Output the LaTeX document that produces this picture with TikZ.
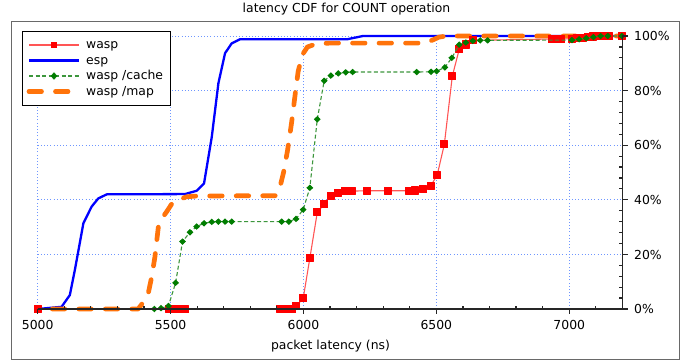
\documentclass[tikz,border=0pt]{standalone}
\usepackage{fontspec}
\setmainfont{DejaVu Sans}
\usetikzlibrary{plotmarks}
\definecolor{wRed}{RGB}{255,0,0}
\definecolor{wRedLine}{RGB}{255,85,85}
\definecolor{eBlue}{RGB}{0,0,255}
\definecolor{cGreen}{RGB}{0,125,0}
\definecolor{cGreenLine}{RGB}{60,150,60}
\definecolor{mOrange}{RGB}{255,115,10}
\definecolor{gBlue}{RGB}{110,150,255}
\definecolor{fGray}{RGB}{105,105,105}
\tikzset{
  lbl/.style={font=\fontsize{12.4}{14}\selectfont, inner sep=0pt},
  gridline/.style={gBlue, line width=0.9pt, dash pattern=on 0.9pt off 2.3pt},
  axisline/.style={black!85, line width=1.2pt},
  waspline/.style={wRedLine, line width=1.1pt, line join=round},
  espline/.style={eBlue, line width=2.3pt, line join=round},
  cacheline/.style={cGreenLine, line width=1.1pt, dash pattern=on 4pt off 2.5pt},
  mapline/.style={mOrange, line width=4.7pt, line cap=round, line join=round,
                  dash pattern=on 12.5pt off 14pt},
  waspmark/.style={mark=square*, mark size=3.5pt, mark options={draw=wRed, fill=wRed, solid}},
  cachemark/.style={mark=diamond*, mark size=2.5pt,
                    mark options={draw=cGreen, fill=cGreen, solid, xscale=1.4}},
}
\begin{document}
\begin{tikzpicture}[x=1pt,y=-1pt]
\useasboundingbox (0,0) rectangle (693,362);
\fill[white] (0,0) rectangle (693,362);
% figure frame
\draw[fGray, line width=1pt] (11,21.5) rectangle (679.5,359);
% title and axis label
\node[lbl, anchor=base] (title) at (346.5,12.5) {latency CDF for COUNT operation};
\node[lbl, anchor=base] (xlabel) at (330.5,349) {packet latency (ns)};

% data area: x in ns, y in percent
\begin{scope}[shift={(-1291.3,309)}, x=0.2658pt, y=2.73pt]
  % grid
  \foreach \v in {5000,5500,...,7000} \draw[gridline] (\v,0) -- (\v,100);
  \foreach \p in {20,40,...,100} \draw[gridline] (5000,\p) -- (7200,\p);

  % esp
  \draw[espline] plot coordinates {(5000,0) (5090,0.8) (5121,5.1) (5140,14.3) (5172,31.4)
    (5203,37.5) (5228,40.5) (5260,42) (5554,42.1) (5598,43.3) (5626,46) (5655,63)
    (5680,82.7) (5705,93.7) (5730,97.3) (5761,98.8) (6164,98.8) (6224,100) (7200,100)};

  % wasp /map
  \draw[mapline] plot coordinates {(5055,0) (5378,0) (5390,1.5) (5416,5.7) (5429,11.8)
    (5441,19) (5448,25) (5454,30) (5470,33.5) (5485,35.6) (5510,39.3) (5560,41.1)
    (5600,41.4) (5895,41.5) (5910,44) (5925,50) (5940,58) (5955,68) (5968,78)
    (5980,87) (5995,93) (6015,96) (6050,97.2) (6100,97.4) (6460,97.4) (6490,98.7)
    (6510,99.6) (6540,100) (7195,100)};

  % wasp
  \draw[waspline] plot[waspmark] coordinates {(5000,0) (5495,0) (5510,0) (5525,0)
    (5540,0) (5555,0) (5912,0) (5927,0) (5942,0) (5957,0) (5972,1.1) (5999,3.9)
    (6024,18.6) (6052,35.4) (6078,38.4) (6103,41.5) (6131,42.6) (6156,43.1) (6181,43.2)
    (6240,43.3) (6319,43.3) (6398,43.3) (6419,43.4) (6451,43.8) (6479,45.2) (6503,49)
    (6530,60.3) (6560,85.3) (6586,95.1) (6611,96.9) (6637,98.4) (6935,98.9) (6952,98.9)
    (6970,98.9) (7010,99.0) (7030,99.2) (7050,99.4) (7070,99.6) (7090,99.8) (7110,100)
    (7130,100) (7150,100) (7198,100)};

  % wasp /cache
  \draw[cacheline] plot[cachemark] coordinates {(5439,0) (5464,0.3) (5492,1.1) (5519,9.6)
    (5545,24.7) (5573,28.1) (5598,30.2) (5626,31.4) (5655,31.9) (5680,32) (5705,32)
    (5730,32) (5918,32) (5945,32) (5972,33) (5999,36.4) (6024,44.4) (6052,69.5)
    (6078,83.6) (6103,85.5) (6131,86.3) (6159,86.7) (6185,86.8) (6426,86.8) (6480,86.9)
    (6501,87.1) (6532,88.5) (6558,92) (6586,96.8) (6611,97.6) (6637,98.2) (6665,98.4)
    (6693,98.4) (7010,98.5) (7037,98.8) (7064,99.2) (7091,99.6) (7118,100) (7145,100)
    (7198,100)};

  % axes
  \draw[axisline] (5000,0) -- (7200,0) -- (7200,100);
  \foreach \v in {5000,5500,...,7000} {
    \draw[axisline] (\v,0) -- ++(0pt,-5pt);
    \node[lbl, anchor=base] (xt\v) at ([yshift=-20pt]\v,0) {\v};
  }
  \foreach \v in {5100,5200,5300,5400,5600,5700,5800,5900,6100,6200,6300,6400,
                  6600,6700,6800,6900,7100}
    \draw[axisline] (\v,0) -- ++(0pt,3.5pt);
  \foreach \p in {0,20,...,100} {
    \draw[axisline] (7200,\p) -- ++(6pt,0pt);
    \node[lbl, anchor=base west] (yt\p) at ([xshift=11.5pt,yshift=-4.7pt]7200,\p) {\p\%};
  }
  \foreach \p in {4,8,12,16,24,28,32,36,44,48,52,56,64,68,72,76,84,88,92,96}
    \draw[axisline] (7200,\p) -- ++(-3.5pt,0pt);
\end{scope}

% legend
\draw[black, line width=1pt, fill=white] (22.7,31) rectangle (170,105);
\draw[waspline] (29,45) -- (79,45);
\node[draw=none, fill=wRed, inner sep=0pt, minimum size=6.8pt] (lm1) at (54,45) {};
\draw[espline] (29,60.5) -- (79,60.5);
\node[draw=none, fill=eBlue, inner sep=0pt, minimum width=4pt, minimum height=3.6pt] (lm2) at (54,60.5) {};
\draw[cacheline] (29,76) -- (79,76);
\draw[cGreen, fill=cGreen] (54,72.6) -- (57,76) -- (54,79.4) -- (51,76) -- cycle;
\draw[mapline] (29,91.5) -- (79,91.5);
\node[lbl, anchor=base west] (lt1) at (86,48.5) {wasp};
\node[lbl, anchor=base west] (lt2) at (86,64) {esp};
\node[lbl, anchor=base west] (lt3) at (86,79.5) {wasp /cache};
\node[lbl, anchor=base west] (lt4) at (86,95) {wasp /map};
\end{tikzpicture}
\end{document}
